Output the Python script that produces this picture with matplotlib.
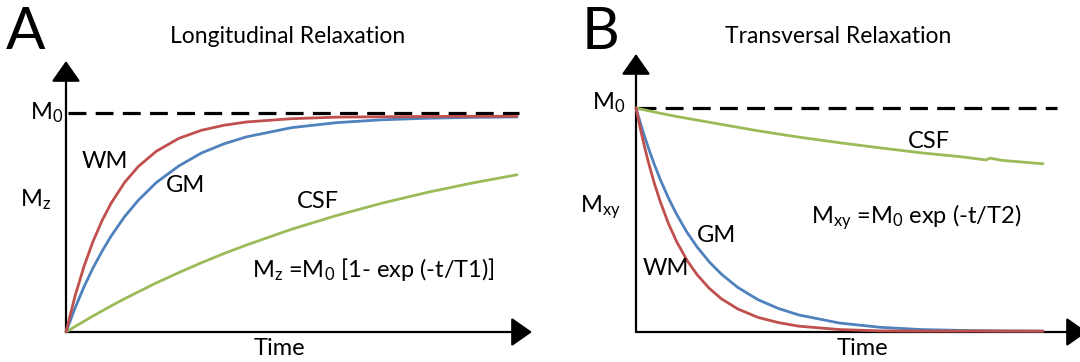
import matplotlib
matplotlib.use("Agg")
import matplotlib.pyplot as plt

plt.rcParams['font.family'] = ['Lato', 'DejaVu Sans']
plt.rcParams['mathtext.fontset'] = 'custom'
plt.rcParams['mathtext.rm'] = 'Lato'
plt.rcParams['mathtext.it'] = 'Lato'
plt.rcParams['mathtext.default'] = 'regular'

# Panel A - longitudinal relaxation, values as fraction of M0
t1_time = [0, 0.02, 0.04, 0.06, 0.08, 0.10, 0.13, 0.16, 0.20, 0.25,
           0.30, 0.35, 0.40, 0.50, 0.60, 0.70, 0.80, 0.90, 1.0]
wm_t1 = [0, 0.164, 0.300, 0.414, 0.509, 0.588, 0.683, 0.755, 0.825, 0.884,
         0.921, 0.944, 0.959, 0.974, 0.981, 0.983, 0.984, 0.985, 0.985]
gm_t1 = [0, 0.109, 0.207, 0.293, 0.369, 0.438, 0.527, 0.601, 0.682, 0.758,
         0.817, 0.859, 0.891, 0.933, 0.956, 0.969, 0.976, 0.980, 0.982]
csf_t1 = [0, 0.025, 0.049, 0.073, 0.096, 0.119, 0.152, 0.183, 0.224, 0.271,
          0.316, 0.358, 0.397, 0.469, 0.532, 0.588, 0.637, 0.680, 0.718]

# Panel B - transversal relaxation
t2_time = [0, 0.01, 0.02, 0.03, 0.045, 0.06, 0.08, 0.10, 0.125, 0.15, 0.18,
           0.21, 0.25, 0.30, 0.35, 0.40, 0.50, 0.60, 0.70, 0.80, 0.90, 1.0]
wm_t2 = [1.0, 0.913, 0.834, 0.761, 0.664, 0.580, 0.483, 0.403, 0.321, 0.256, 0.195,
         0.148, 0.103, 0.065, 0.042, 0.026, 0.011, 0.005, 0.004, 0.004, 0.004, 0.004]
gm_t2 = [1.0, 0.938, 0.879, 0.824, 0.748, 0.679, 0.597, 0.525, 0.446, 0.380, 0.313,
         0.258, 0.199, 0.144, 0.105, 0.076, 0.040, 0.021, 0.011, 0.007, 0.005, 0.004]
csf_t2_time = [0, 0.05, 0.1, 0.2, 0.3, 0.4, 0.5, 0.6, 0.7, 0.8, 0.86, 0.87, 0.9, 1.0]
csf_t2 = [1.0, 0.98, 0.962, 0.93, 0.898, 0.87, 0.845, 0.822, 0.80, 0.782, 0.768,
          0.776, 0.766, 0.751]

RED = '#C0504D'
BLUE = '#4F81BD'
GREEN = '#9BBB59'

W, H = 1080, 362
fig = plt.figure(figsize=(W / 100, H / 100), dpi=100)


def px_rect(x0, y0, x1, y1):
    # pixel corners (origin, arrow tips) -> figure fraction rect
    return [x0 / W, 1 - y0 / H, (x1 - x0) / W, (y0 - y1) / H]


def label(x, y, s, size=17, ha='left'):
    fig.text(x / W, 1 - y / H, s, fontsize=size, ha=ha, va='baseline')


def setup(ax, xmax, ymax, dash_end):
    ax.set_xlim(0, xmax)
    ax.set_ylim(0, ymax)
    ax.axis('off')
    arrow = dict(arrowstyle='-|>,head_length=0.4,head_width=0.28', color='black',
                 lw=1.6, mutation_scale=32, shrinkA=0, shrinkB=0)
    ax.annotate('', xy=(xmax, 0), xytext=(0, 0), arrowprops=arrow, annotation_clip=False)
    ax.annotate('', xy=(0, ymax), xytext=(0, 0), arrowprops=arrow, annotation_clip=False)
    ax.plot([0.005, dash_end], [1, 1], color='black', lw=2.3,
            linestyle=(0, (5.6, 2.9)), clip_on=False, zorder=1)


line_kw = dict(lw=2.0, clip_on=False, solid_capstyle='round', zorder=3)

# panel A
axA = fig.add_axes(px_rect(66, 332, 532, 61))
setup(axA, (532 - 66) / 451, (332 - 61) / 219, 1.005)
axA.plot(t1_time, csf_t1, color=GREEN, **line_kw)
axA.plot(t1_time, gm_t1, color=BLUE, **line_kw)
axA.plot(t1_time, wm_t1, color=RED, **line_kw)

# panel B
axB = fig.add_axes(px_rect(636, 332, 1087, 54))
setup(axB, (1087 - 636) / 407, (332 - 54) / 224, 1.034)
axB.plot(csf_t2_time, csf_t2, color=GREEN, **line_kw)
axB.plot(t2_time, gm_t2, color=BLUE, **line_kw)
axB.plot(t2_time, wm_t2, color=RED, **line_kw)

# texts
label(6, 49, 'A', size=42)
label(582, 49, 'B', size=42)
label(288, 43, 'Longitudinal Relaxation', size=16.5, ha='center')
label(838, 43, 'Transversal Relaxation', size=16.5, ha='center')

label(30, 119, 'M$_0$')
label(20, 206, 'M$_z$')
label(82, 168, 'WM')
label(166, 192, 'GM')
label(297, 208, 'CSF')
label(252, 277, 'M$_z$ =M$_0$ [1- exp (-t/T1)]')
label(279, 355, 'Time', ha='center')

label(592, 109, 'M$_0$')
label(580, 212, 'M$_{xy}$')
label(908, 148, 'CSF')
label(811, 223, 'M$_{xy}$ =M$_0$ exp (-t/T2)')
label(697, 242, 'GM')
label(643, 275, 'WM')
label(862, 355, 'Time', ha='center')

fig.savefig('out.png', dpi=100)
